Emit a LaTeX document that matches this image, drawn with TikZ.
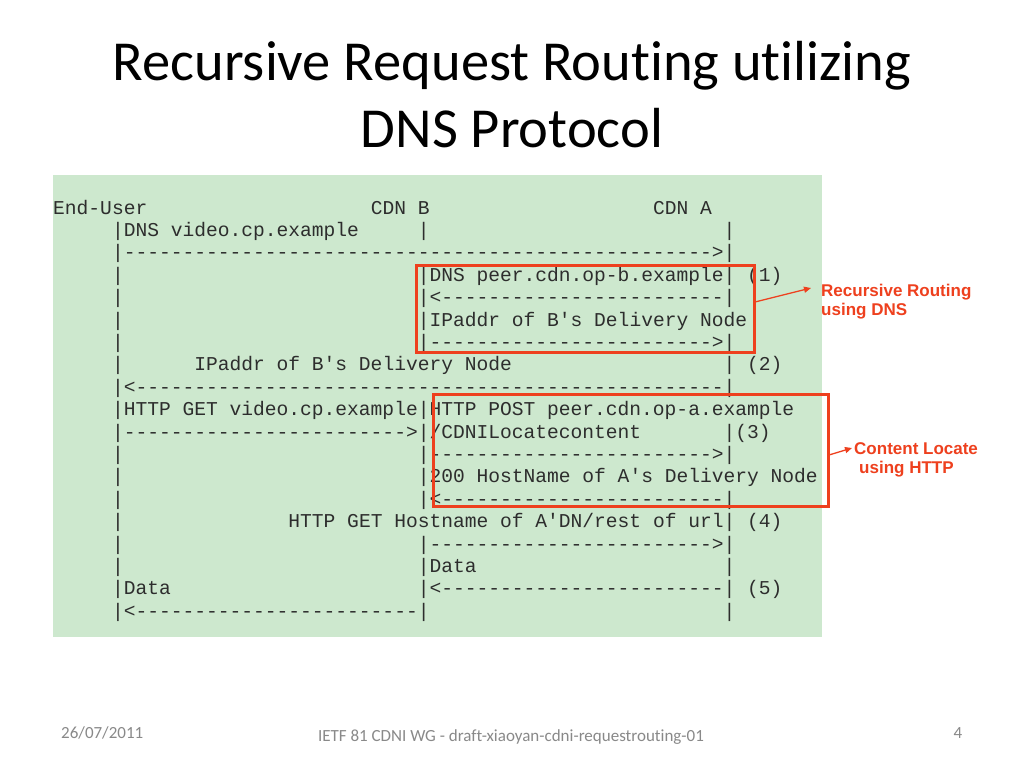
\documentclass[tikz,border=0pt]{standalone}
\usepackage{fontspec}
\setmainfont{Carlito}[Ligatures={NoCommon}]
\setmonofont{Liberation Mono}
\newfontfamily\labfont{Liberation Sans}
\usetikzlibrary{arrows.meta}
\ExplSyntaxOn
\cs_new:Npn \myrep #1#2 { \prg_replicate:nn {#1} {#2} }
\ExplSyntaxOff
\newcommand\SP[1]{\myrep{#1}{~}}
\newcommand\DS[1]{\myrep{#1}{-}}
\definecolor{bggreen}{RGB}{205,232,206}
\definecolor{hired}{RGB}{238,64,30}
\definecolor{footgray}{RGB}{137,137,137}
\definecolor{monotext}{RGB}{45,45,45}
\frenchspacing
\begin{document}
\begin{tikzpicture}[x=1pt,y=-1pt,
  titletext/.style={anchor=base, inner sep=0, font=\fontsize{56.5}{62}\selectfont, text=black},
  monoline/.style={anchor=base west, inner sep=0, font=\ttfamily\fontsize{19.6}{22}\selectfont, text=monotext},
  redbox/.style={draw=hired, line width=3.2pt, inner sep=0, fill=none},
  redlab/.style={anchor=base west, inner sep=0, align=left, text=hired, font=\labfont\bfseries\fontsize{17}{19}\selectfont},
  redarrow/.style={draw=hired, line width=1.3pt, -{Triangle[length=7pt,width=6pt]}},
  foottext/.style={anchor=base, inner sep=0, text=footgray, font=\fontsize{17}{19}\selectfont}]
\useasboundingbox (0,0) rectangle (1024,768);
\fill[white] (0,0) rectangle (1024,768);
% title
\node[titletext] (t1) at (512,80) {Recursive Request Routing utilizing};
\node[titletext] (t2) at (512,147) {DNS Protocol};
% green panel
\node[fill=bggreen, inner sep=0, minimum width=769, minimum height=462, anchor=north west] (panel) at (53,175) {};
% ascii lines
\node[monoline] (l1) at (53,214.0) {End-User\SP{19}CDN B\SP{19}CDN A};
\node[monoline] (l2) at (53,236.4) {\SP{5}|DNS video.cp.example\SP{5}|\SP{25}|};
\node[monoline] (l3) at (53,258.8) {\SP{5}|\DS{50}>|};
\node[monoline] (l4) at (53,281.2) {\SP{5}|\SP{25}|DNS peer.cdn.op-b.example| (1)};
\node[monoline] (l5) at (53,303.6) {\SP{5}|\SP{25}|<\DS{24}|};
\node[monoline] (l6) at (53,326.0) {\SP{5}|\SP{25}|IPaddr of B's Delivery Node};
\node[monoline] (l7) at (53,348.4) {\SP{5}|\SP{25}|\DS{24}>|};
\node[monoline] (l8) at (53,370.8) {\SP{5}|\SP{6}IPaddr of B's Delivery Node\SP{18}| (2)};
\node[monoline] (l9) at (53,393.2) {\SP{5}|<\DS{50}|};
\node[monoline] (l10) at (53,415.6) {\SP{5}|HTTP GET video.cp.example|HTTP POST peer.cdn.op-a.example};
\node[monoline] (l11) at (53,438.0) {\SP{5}|\DS{24}>|/CDNILocatecontent\SP{7}|(3)};
\node[monoline] (l12) at (53,460.4) {\SP{5}|\SP{25}|\DS{24}>|};
\node[monoline] (l13) at (53,482.8) {\SP{5}|\SP{25}|200 HostName of A's Delivery Node};
\node[monoline] (l14) at (53,505.2) {\SP{5}|\SP{25}|<\DS{24}|};
\node[monoline] (l15) at (53,527.6) {\SP{5}|\SP{14}HTTP GET Hostname of A'DN/rest of url| (4)};
\node[monoline] (l16) at (53,550.0) {\SP{5}|\SP{25}|\DS{24}>|};
\node[monoline] (l17) at (53,572.4) {\SP{5}|\SP{25}|Data\SP{21}|};
\node[monoline] (l18) at (53,594.8) {\SP{5}|Data\SP{21}|<\DS{24}| (5)};
\node[monoline] (l19) at (53,617.2) {\SP{5}|<\DS{24}|\SP{25}|};
% red boxes
\node[redbox, minimum width=338, minimum height=87, anchor=north west] (box1) at (415,264) {};
\node[redbox, minimum width=395, minimum height=112, anchor=north west] (box2) at (432,393) {};
% labels (anchor at baseline of last line)
\node[redlab] (lab1) at (821,315) {Recursive Routing\\using DNS};
\node[redlab] (lab2) at (854,473) {Content Locate\\\hspace*{5pt}using HTTP};
\coordinate (a1s) at (755,302);
\coordinate (a1e) at (811,288);
\coordinate (a2s) at (829,455);
\coordinate (a2e) at (852,448);
\draw[redarrow] (a1s) -- (a1e);
\draw[redarrow] (a2s) -- (a2e);
% footer
\node[foottext, anchor=base west] (date) at (61,738) {26/07/2011};
\node[foottext] (ftitle) at (511,741) {IETF 81 CDNI WG - draft-xiaoyan-cdni-requestrouting-01};
\node[foottext] (pageno) at (958,738) {4};
\end{tikzpicture}
\end{document}
